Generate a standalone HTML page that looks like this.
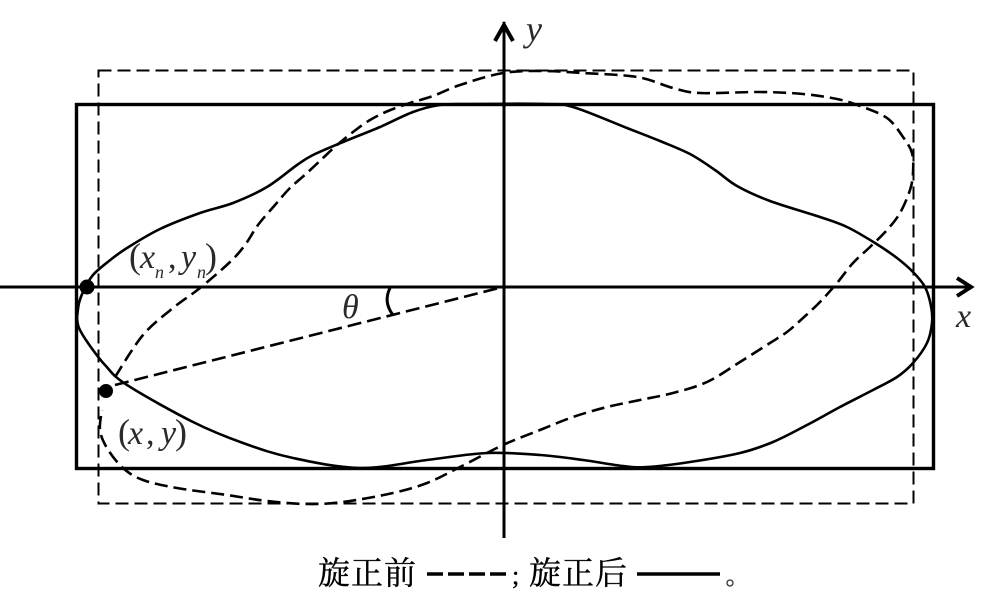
<!DOCTYPE html>
<html>
<head>
<meta charset="utf-8">
<style>
html,body{margin:0;padding:0;background:#fff;width:1000px;height:596px;overflow:hidden}
svg{display:block}
.l{font-family:"Liberation Serif","Noto Serif CJK SC",serif;font-style:italic;fill:#2a2a2a}
.p{font-family:"Liberation Serif","Noto Serif CJK SC",serif;fill:#2a2a2a}
.c{font-family:"Liberation Serif","Noto Serif CJK SC",serif;fill:#000;stroke:#000;stroke-width:.35}
</style>
</head>
<body>
<svg id="s" width="1000" height="596" viewBox="0 0 1000 596" xmlns="http://www.w3.org/2000/svg">
<rect x="98.500" y="70.500" width="815" height="433" fill="none" stroke="#000" stroke-width="2" stroke-dasharray="13 6"/>
<rect x="76.500" y="104.500" width="857" height="364" fill="none" stroke="#000" stroke-width="3.400"/>
<path d="M0 287H972M504 538V22" fill="none" stroke="#000" stroke-width="3"/>
<path d="M495 41L504 25L513 41M957 278L971 287L957 296" fill="none" stroke="#000" stroke-width="4"/>
<polyline class="sm" fill="none" stroke="#000" stroke-width="2.600" stroke-linejoin="round" points="77,318 79,303 84,290 93,275 109,261 127,248 160,229 200,213 233,203 267,187 297,165 313,155 343,142 380,127 413,112 440,105 470,104 545,104 573,107 627,128 660,141 690,154 715,170 737,186 770,201 820,217 847,227 875,243 897,258 913,272 925,287 931,306 932,323 927,343 913,363 897,377 873,390 840,407 807,425 773,442 740,453 690,462 647,467 623,466 583,460 540,455 487,453 427,460 360,468 293,458 243,443 193,422 127,385 105,365 88,343 79,328 77,318"/>
<polyline class="sm" fill="none" stroke="#000" stroke-width="2.600" stroke-linejoin="round" stroke-dasharray="13 6" points="115,377 143,335 173,308 200,288 230,262 245,245 258,225 275,205 290,188 307,173 323,158 337,145 353,132 370,120 388,111 410,103 433,96 460,85 503,73 543,71 583,73 637,77 673,88 700,93 760,92 803,94 837,99 860,106 887,118 903,137 912,153 913,173 910,190 900,213 887,230 870,247 853,263 837,283 820,302 803,318 787,332 770,343 740,362 707,382 673,393 640,400 607,407 573,417 540,430 503,445 460,467 427,483 393,493 343,502 307,504 267,501 227,495 177,488 143,480 123,468 107,448 100,430 102,410"/>
<line x1="115" y1="385" x2="503" y2="287" stroke="#000" stroke-width="2.600" stroke-dasharray="14 6"/>
<path d="M390 288Q383 302 393 315" fill="none" stroke="#000" stroke-width="3"/>
<circle cx="87" cy="287" r="7.500" fill="#000"/>
<circle cx="106" cy="391" r="7" fill="#000"/>
<text class="l" x="526" y="41" font-size="36">y</text>
<text class="l" x="956" y="327" font-size="34">x</text>
<text class="l" x="342" y="318" font-size="34">θ</text>
<text class="p" x="129" y="268" font-size="36">(</text>
<text class="l" x="140" y="268" font-size="34">x</text>
<text class="l" x="155" y="278" font-size="18">n</text>
<text class="p" x="168" y="268" font-size="34">,</text>
<text class="l" x="181" y="268" font-size="34">y</text>
<text class="l" x="197" y="278" font-size="18">n</text>
<text class="p" x="205" y="268" font-size="36">)</text>
<text class="p" x="118" y="444" font-size="36">(</text>
<text class="l" x="128" y="444" font-size="34">x</text>
<text class="p" x="146" y="444" font-size="34">,</text>
<text class="l" x="161" y="444" font-size="34">y</text>
<text class="p" x="175" y="444" font-size="36">)</text>
<text class="c" x="318" y="584" font-size="32" textLength="98" lengthAdjust="spacing">旋正前</text>
<line x1="427" y1="574" x2="508" y2="574" stroke="#000" stroke-width="3.500" stroke-dasharray="16 5"/>
<text class="c" x="512" y="584" font-size="26">;</text>
<text class="c" x="529" y="584" font-size="32" textLength="98" lengthAdjust="spacing">旋正后</text>
<line x1="637" y1="574" x2="720" y2="574" stroke="#000" stroke-width="3.500"/>
<circle cx="730" cy="583" r="3" fill="none" stroke="#333" stroke-width="1.300"/>
</svg>
<script>
document.querySelectorAll('polyline.sm').forEach(function(e){
var t=e.getAttribute('points').trim().split(/\s+/).map(function(a){return a.split(',').map(Number)});
var d='M'+t[0].join(' ');
for(var i=0;i<t.length-1;i++){
var a=t[Math.max(i-1,0)],b=t[i],c=t[i+1],f=t[Math.min(i+2,t.length-1)];
d+='C'+(b[0]+(c[0]-a[0])/6)+' '+(b[1]+(c[1]-a[1])/6)+' '+(c[0]-(f[0]-b[0])/6)+' '+(c[1]-(f[1]-b[1])/6)+' '+c[0]+' '+c[1];
}
var p=document.createElementNS('http://www.w3.org/2000/svg','path');
p.setAttribute('d',d);
['fill','stroke','stroke-width','stroke-linejoin','stroke-dasharray'].forEach(function(n){if(e.hasAttribute(n))p.setAttribute(n,e.getAttribute(n))});
e.parentNode.replaceChild(p,e);
});
</script>
</body>
</html>
